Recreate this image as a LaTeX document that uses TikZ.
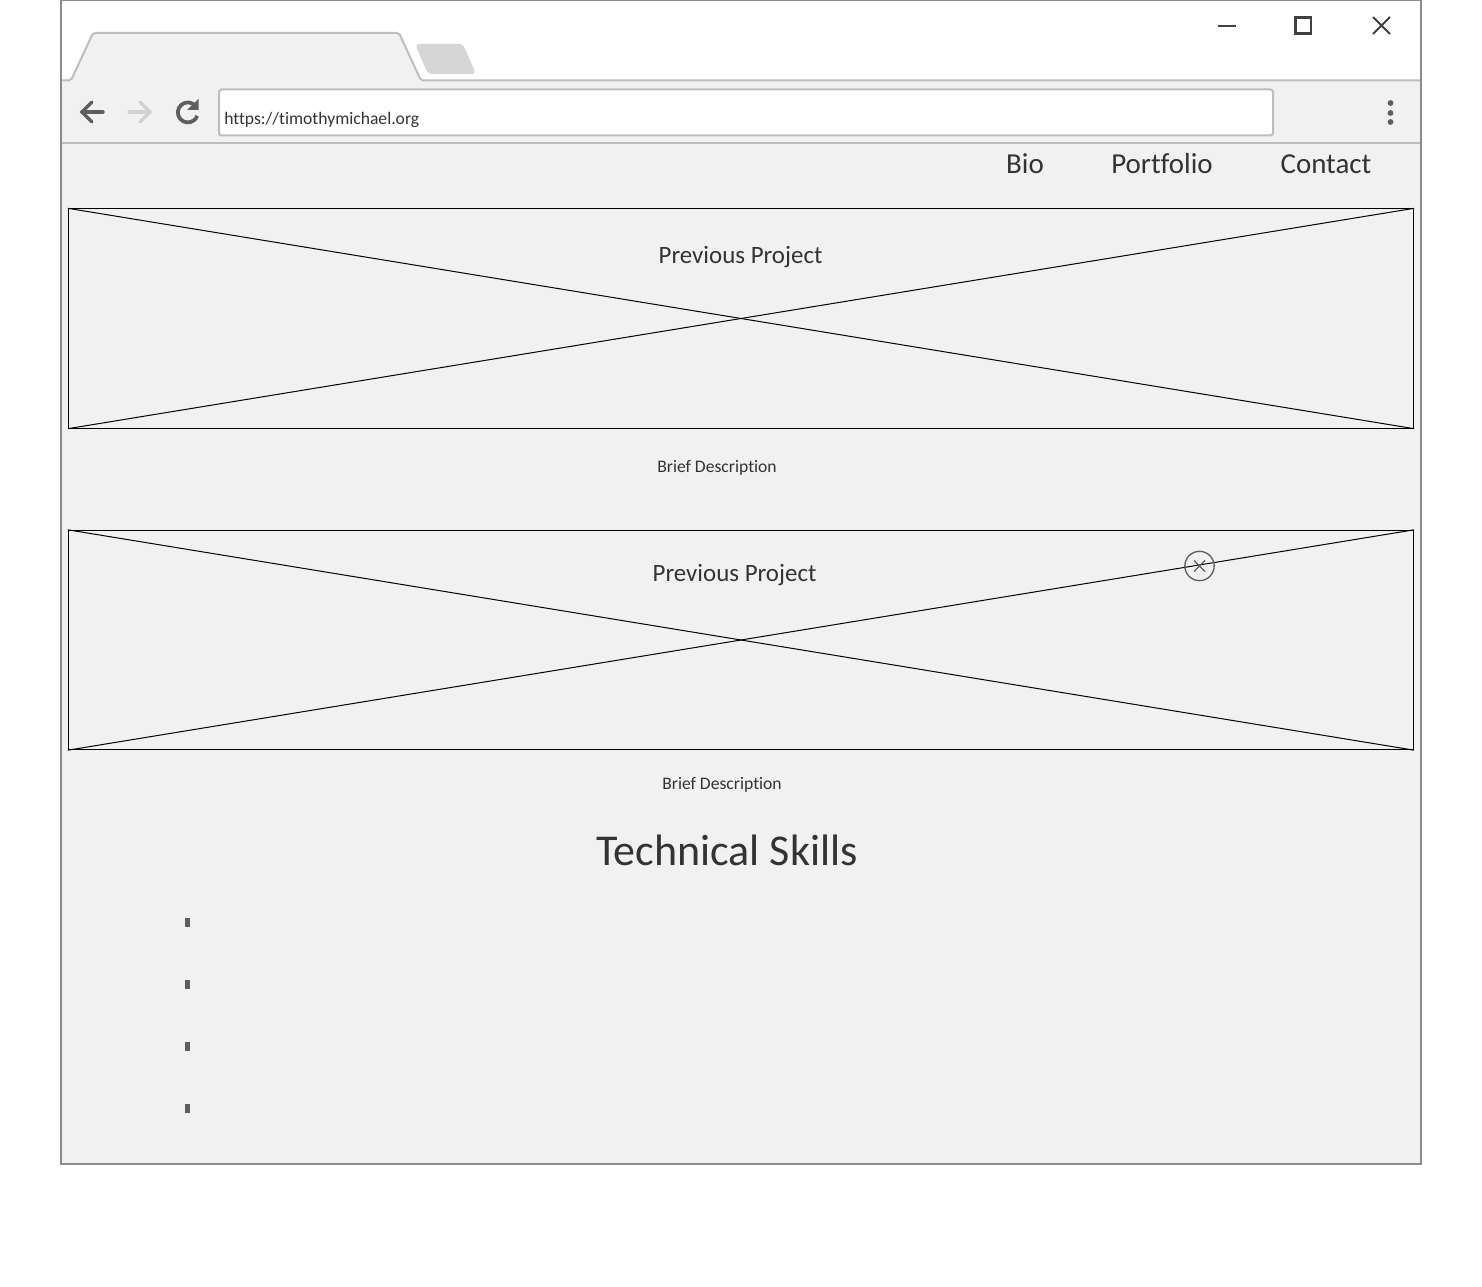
\documentclass[tikz,border=0pt]{standalone}
\usepackage{fontspec}
\setmainfont[Ligatures={NoCommon}]{Carlito}
\definecolor{pagegray}{HTML}{F1F1F1}
\definecolor{frame}{HTML}{8C8C8C}
\definecolor{chrome}{HTML}{BDBDBD}
\definecolor{txt}{HTML}{333333}
\definecolor{icon}{HTML}{5E5E5E}
\tikzset{
  lbl/.style={text=txt,inner sep=0pt,anchor=base,font=\fontsize{#1}{#1}\selectfont},
  xbox/.style={draw=black,fill=pagegray,line width=0.75pt,minimum width=1008.75pt,minimum height=164.5pt,inner sep=0pt},
  xline/.style={draw=black,line width=0.75pt},
  bullet/.style={fill=icon,draw=none,minimum width=4.2pt,minimum height=6.75pt,inner sep=0pt},
  chromeline/.style={draw=chrome,line width=1.5pt,line join=round},
  navicon/.style={line width=2.6pt,line cap=round,line join=miter},
}
\begin{document}
\begin{tikzpicture}[x=0.75pt,y=-0.75pt]
\useasboundingbox (0,0) rectangle (1482,1287);
\fill[white] (0,0) rectangle (1482,1287);
% window
\fill[pagegray] (61,81) rectangle (1421,1164);
% tab
\fill[pagegray,rounded corners=1.5pt] (71,81.5) -- (93,33) -- (399,33) -- (421,81.5) -- cycle;
\draw[chromeline,rounded corners=1.5pt] (61,80.5) -- (71,80.5) -- (93,33) -- (399,33) -- (421,80.5) -- (1421,80.5);
\fill[black!16,rounded corners=3pt] (415,44) -- (463,44) -- (476,74) -- (428,74) -- cycle;
% toolbar
\draw[chromeline] (61,143.5) -- (1421,143.5);
\node[draw=chrome,fill=white,line width=1.5pt,rounded corners=2pt,minimum width=790.5pt,minimum height=34.5pt,inner sep=0pt] (url) at (746,112.5) {};
\node[lbl=13.2,anchor=base west] (urltext) at (224,125) {https://timothymichael.org};
% nav icons
\draw[icon,navicon] (103,112) -- (82,112);
\draw[icon,navicon] (92,102) -- (82,112) -- (92,122);
\draw[black!18,navicon] (129,112) -- (150,112);
\draw[black!18,navicon] (140,102) -- (150,112) -- (140,122);
\draw[icon,line width=2.8pt] (195.5,106) arc (-40:-340:10);
\fill[icon] (198.5,99) -- (198.5,110) -- (187,110) -- cycle;
\foreach \y in {103,113,122} \fill[icon] (1390.5,\y) circle (2.9);
% window buttons
\draw[black!75,line width=1.6pt] (1218,26) -- (1236,26);
\draw[black!75,line width=1.6pt] (1295.5,17.5) rectangle (1311,33.5);
\draw[black!75,line width=1.5pt] (1373,17) -- (1390,34) (1390,17) -- (1373,34);
% window frame
\draw[frame,line width=1.5pt] (60.5,0.5) rectangle (1421,1164);
% menu
\node[lbl=21.7] (bio) at (1025,174) {Bio};
\node[lbl=21.7] (portfolio) at (1162,174) {Portfolio};
\node[lbl=21.7] (contact) at (1326,174) {Contact};
% images
\node[xbox] (imgA) at (741,318.5) {};
\draw[xline] (imgA.north west) -- (imgA.south east);
\draw[xline] (imgA.south west) -- (imgA.north east);
\node[xbox] (imgB) at (741,640) {};
\draw[xline] (imgB.north west) -- (imgB.south east);
\draw[xline] (imgB.south west) -- (imgB.north east);
\node[lbl=18.7] (prevA) at (740.5,264) {Previous Project};
\node[lbl=18.7] (prevB) at (734.5,581) {Previous Project};
\node[lbl=13.2] (descA) at (717,473) {Brief Description};
\node[lbl=13.2] (descB) at (722,789) {Brief Description};
% close marker
\node[circle,draw=icon,line width=1pt,minimum size=22pt,inner sep=0pt] (mark) at (1199.5,566) {};
\draw[icon,line width=1pt] (1194,560.5) -- (1205,571.5) (1205,560.5) -- (1194,571.5);
% skills
\node[lbl=33] (skills) at (727,865) {Technical Skills};
\node[bullet] (b1) at (187.5,922.5) {};
\node[bullet] (b2) at (187.5,984.5) {};
\node[bullet] (b3) at (187.5,1046.5) {};
\node[bullet] (b4) at (187.5,1108.5) {};
\end{tikzpicture}
\end{document}
